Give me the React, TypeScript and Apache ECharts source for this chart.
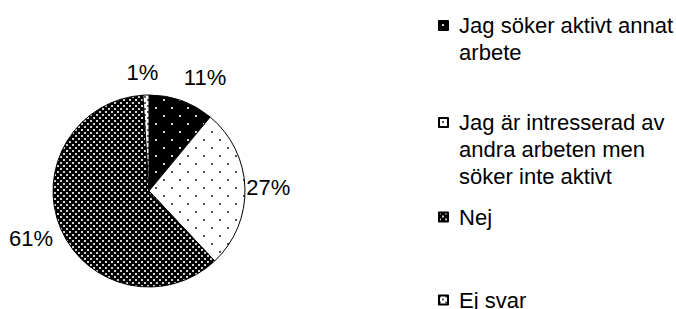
import React, { useEffect, useRef } from "react";
import * as echarts from "echarts";

const categories = [
  "Jag söker aktivt annat arbete",
  "Jag är intresserad av andra arbeten men söker inte aktivt",
  "Nej",
  "Ej svar",
];
const legendLines = [
  ["Jag söker aktivt annat", "arbete"],
  ["Jag är intresserad av", "andra arbeten men", "söker inte aktivt"],
  ["Nej"],
  ["Ej svar"],
];
const values = [11, 27, 61, 1];

// layout (label centres and legend first-line centres), not data
const labelCenters: [number, number][] = [
  [205, 77.4],
  [268.3, 187.4],
  [31, 238.4],
  [142.5, 72.4],
];
const legendFirstLineY = [23, 120, 214.5, 297.5];

const FONT = "'Liberation Sans', Arial, sans-serif";
const FS = 22;
const LH = 27;

function makeTile(size: number, bg: string, dot: string, dots: [number, number][], d: number) {
  const c = document.createElement("canvas");
  c.width = size;
  c.height = size;
  const ctx = c.getContext("2d")!;
  ctx.fillStyle = bg;
  ctx.fillRect(0, 0, size, size);
  ctx.fillStyle = dot;
  dots.forEach(([x, y]) => ctx.fillRect(x, y, d, d));
  return c;
}

export default function App() {
  const ref = useRef<HTMLDivElement>(null);
  useEffect(() => {
    if (!ref.current) return;
    const chart = echarts.init(ref.current, undefined, { renderer: "svg" });
    const patterns = [
      makeTile(16, "#000000", "#d8d8d8", [[3, 3], [11, 11]], 2),
      makeTile(16, "#ffffff", "#505050", [[3, 3], [11, 11]], 2),
      makeTile(6, "#000000", "#d0d0d0", [[0, 0], [3, 3]], 2),
      makeTile(6, "#ffffff", "#606060", [[0, 0], [3, 3]], 2),
    ].map((c) => ({ image: c, repeat: "repeat" as const }));

    const legends = categories.map((name, i) => {
      const n = legendLines[i].length;
      return {
        show: true,
        left: 438,
        top: legendFirstLineY[i] - (n - 1) * LH - 11,
        padding: 0,
        orient: "vertical" as const,
        itemWidth: 9,
        itemHeight: 9,
        itemGap: 0,
        icon: "rect",
        selectedMode: false,
        data: [name],
        formatter: (nm: string) => {
          const ls = legendLines[categories.indexOf(nm)];
          return "\n".repeat(ls.length - 1) + ls.map((l) => " " + l).join("\n");
        },
        textStyle: {
          fontFamily: FONT,
          fontSize: FS,
          lineHeight: LH,
          color: "#000",
        },
      };
    });

    chart.setOption({
      animation: false,
      legend: legends,
      series: [
        {
          type: "pie",
          center: [149, 191],
          radius: 96,
          startAngle: 90,
          clockwise: true,
          avoidLabelOverlap: false,
          minShowLabelAngle: 0,
          emphasis: { disabled: true },
          silent: true,
          itemStyle: { borderColor: "#000", borderWidth: 1 },
          label: {
            show: true,
            position: "outside",
            formatter: "{c}%",
            fontFamily: FONT,
            fontSize: FS,
            color: "#000",
          },
          labelLine: { show: false },
          labelLayout: (p: any) => ({
            x: labelCenters[p.dataIndex][0],
            y: labelCenters[p.dataIndex][1],
            align: "center",
            verticalAlign: "middle",
          }),
          data: categories.map((name, i) => ({
            name,
            value: values[i],
            itemStyle: { color: patterns[i] },
          })),
        },
      ],
    });
    return () => chart.dispose();
  }, []);
  return (
    <div
      ref={ref}
      style={{ position: "fixed", left: 0, top: 0, width: 676, height: 309, background: "#fff" }}
    />
  );
}
